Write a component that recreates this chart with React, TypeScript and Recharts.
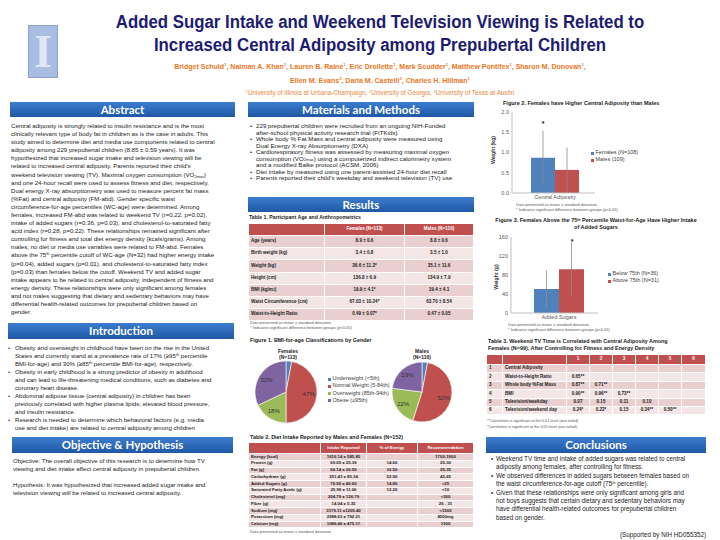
import React from "react";
import { BarChart, Bar, XAxis, YAxis, ErrorBar, PieChart, Pie, Cell } from "recharts";

const SANS = "'Liberation Sans', Arial, sans-serif";
const HEAD = "Lato, 'Open Sans', sans-serif";
const BLUE = "#4f81bd";
const RED = "#c0504d";
const GREEN = "#9bbb59";
const PURPLE = "#8064a2";
const ROW_DARK = "#e9cfcf";
const ROW_LIGHT = "#f4e6e6";

// Figure 2 - central adiposity by gender
const fig2Categories = ["Central Adiposity"];
const fig2Females = [0.87];
const fig2FemalesSd = [0.67];
const fig2Males = [0.57];
const fig2MalesSd = [0.55];
const fig2Ticks = [0, 0.5, 1, 1.5, 2];

// Figure 3 - added sugars above / below 75th percentile
const fig3Categories = ["Added Sugars"];
const fig3Below = [50.5];
const fig3BelowSd = [39];
const fig3Above = [92];
const fig3AboveSd = [57];
const fig3Ticks = [0, 40, 80, 120, 160];

// Figure 1 - BMI-for-age classes (%)
const bmiClasses = ["Underweight (<5th)", "Normal Weight (5-84th)", "Overweight (85th-94th)", "Obese (≥95th)"];
const bmiColors = [BLUE, RED, GREEN, PURPLE];
const bmiFemales = [3, 47, 18, 32];
const bmiMales = [3, 52, 22, 23];

// Table 1
const t1Header = ["", "Females (N=113)", "Males (N=116)"];
const t1Labels = ["Age (years)", "Birth weight (kg)", "Weight (kg)", "Height (cm)", "BMI (kg/m^{2})", "Waist Circumference (cm)", "Waist-to-Height Ratio"];
const t1Females = ["8.9 ± 0.6", "3.4 ± 0.8", "36.6 ± 11.3*", "136.8 ± 6.9", "19.9 ± 4.1*", "67.03 ± 10.24*", "0.49 ± 0.07*"];
const t1Males = ["8.8 ± 0.6", "3.5 ± 1.0", "35.1 ± 11.6", "134.9 ± 7.9", "19.4 ± 4.1", "63.70 ± 8.54", "0.47 ± 0.05"];

// Table 2
const t2Header = ["", "Intake Reported", "% of Energy", "Recommendation"];
const t2Labels = ["Energy (kcal)", "Protein (g)", "Fat (g)", "Carbohydrate (g)", "Added Sugars  (g)", "Saturated Fatty Acids (g)", "Cholesterol (mg)", "Fiber (g)", "Sodium (mg)", "Potassium (mg)", "Calcium (mg)"];
const t2Intake = ["1616.14 ± 585.85", "69.05 ± 25.36", "66.14 ± 26.56", "251.43 ± 85.34", "70.90 ± 40.66", "25.99 ± 11.06", "204.79 ± 126.79", "14.04 ± 5.35", "3179.11 ±1209.40", "2088.63 ± 792.21", "1086.46 ± 475.17"];
const t2Energy = ["", "14.60", "32.50", "52.90", "14.80", "12.20", "", "", "", "", ""];
const t2Rec = ["1700-1900", "20-30", "25-35", "45-65", "<25", "<10", "<300", "26 - 31", "<1500", "4500mg", "1300"];

// Table 3
const t3Header = ["", "", "1", "2", "3", "4", "5", "6"];
const t3Labels = ["Central Adiposity", "Waist-to-Height Ratio", "Whole body %Fat Mass", "BMI", "Television/weekday", "Television/weekend day"];
const t3Values = [
  [],
  ["0.65**"],
  ["0.87**", "0.71**"],
  ["0.90**", "0.96**", "0.73**"],
  ["0.07", "0.15", "0.11", "0.10"],
  ["0.24*", "0.22*", "0.15", "0.34**", "0.50**"],
];

const abstractLines = [
  "Central adiposity is strongly related to insulin resistance and is the most",
  "clinically relevant type of body fat in children as is the case in adults.  This",
  "study aimed to determine diet and media use components related to central",
  "adiposity among 229 prepubertal children (8.85 ± 0.59 years). It was",
  "hypothesized that increased sugar intake and television viewing will be",
  "related to increased central adiposity. Parents reported their child's",
  "weekend television viewing (TV). Maximal oxygen consumption (VO_{2max})",
  "and one 24-hour recall were used to assess fitness and diet, respectively.",
  "Dual energy X-ray absorptiometry was used to measure percent fat mass",
  "(%Fat) and central adiposity (FM-abd). Gender specific waist",
  "circumference-for-age percentiles (WC-age) were determined. Among",
  "females, increased FM-abd was related to weekend TV (r=0.22, p=0.02),",
  "intake of added sugars (r=0.36, p=0.03), and cholesterol-to-saturated fatty",
  "acid index (r=0.28, p=0.22). These relationships remained significant after",
  "controlling for fitness and total diet energy density (kcals/grams). Among",
  "males, no diet or media use variables were related to FM-abd. Females",
  "above the 75^{th} percentile cutoff of WC-age (N=32) had higher energy intake",
  "(p=0.04), added sugars (p=0.01), and cholesterol-to-saturated fatty index",
  "(p=0.03) than females below the cutoff. Weekend TV and added sugar",
  "intake appears to be related to central adiposity, independent of fitness and",
  "energy density. These relationships were only significant among females",
  "and not males suggesting that dietary and sedentary behaviors may have",
  "differential health-related outcomes for prepubertal children based on",
  "gender.",
];

const methodsItems = [
  ["229 prepubertal children were recruited from an ongoing NIH-Funded", "after-school physical activity research trial (FITKids)"],
  ["Whole body % Fat Mass and central adiposity were measured using", "Dual Energy X-ray Absorptiometry (DXA)"],
  ["Cardiorespiratory fitness was assessed by measuring maximal oxygen", "consumption (VO_{2max}) using a computerized indirect calorimetry system", "and a modified Balke protocol (ACSM, 2006)"],
  ["Diet intake by measured using one parent-assisted 24-hour diet recall"],
  ["Parents reported their child's weekday and weekend television (TV) use"],
];

const introItems = [
  ["Obesity and overweight in childhood have been on the rise in the United", "States and currently stand at a prevalence rate of 17% (≥95^{th} percentile", "BMI-for-age) and 30% (≥85^{th} percentile BMI-for-age), respectively."],
  ["Obesity in early childhood is a strong predictor of obesity in adulthood", "and can lead to life-threatening medical conditions, such as diabetes and", "coronary heart disease."],
  ["Abdominal adipose tissue (central adiposity) in children has been", "previously correlated with higher plasma lipids, elevated blood pressure,", "and insulin resistance."],
  ["Research is needed to determine which behavioral factors (e.g. media", "use and diet intake) are related to central adiposity among children"],
];

const conclusionItems = [
  ["Weekend TV time and intake of added sugars was related to central", "adiposity among females, after controlling for fitness."],
  ["We observed differences in added sugars between females based on", "the waist circumference-for-age cutoff (75^{th} percentile)."],
  ["Given that these relationships were only significant among girls and", "not boys suggests that certain dietary and sedentary behaviors may", "have differential health-related outcomes for prepubertal children", "based on gender."],
];

// "^{x}" -> superscript, "_{x}" -> subscript
function fmt(s: string) {
  const parts = s.split(/(\^\{[^}]*\}|_\{[^}]*\})/);
  return parts.map((p, i) => {
    if (p.startsWith("^{")) return <span key={i} style={{ fontSize: "65%", verticalAlign: "0.45em", lineHeight: 0 }}>{p.slice(2, -1)}</span>;
    if (p.startsWith("_{")) return <span key={i} style={{ fontSize: "65%", verticalAlign: "-0.15em", lineHeight: 0 }}>{p.slice(2, -1)}</span>;
    return p;
  });
}

function T({ x, y, size, children, bold = false, color = "#222", center = false, right = false, family = SANS }: any) {
  const tx = center ? "-50%" : right ? "-100%" : "0";
  return (
    <div
      style={{
        position: "absolute",
        left: x,
        top: y,
        transform: `translate(${tx}, -50%)`,
        fontSize: size,
        fontWeight: bold ? "bold" : "normal",
        color,
        fontFamily: family,
        lineHeight: 1,
        whiteSpace: "nowrap",
      }}
    >
      {children}
    </div>
  );
}

function Banner({ x, y, w, h, label }: any) {
  return (
    <div
      style={{
        position: "absolute",
        left: x,
        top: y,
        width: w,
        height: h,
        background: "linear-gradient(#3c7dd0, #1f58a5)",
        color: "#fff",
        fontFamily: HEAD,
        fontWeight: "bold",
        fontSize: 11.5,
        lineHeight: `${h}px`,
        textAlign: "center",
      }}
    >
      {label}
    </div>
  );
}

function Bullets({ x, tx, y, lh, size, items }: any) {
  const out: any[] = [];
  let i = 0;
  items.forEach((lines: string[], k: number) => {
    lines.forEach((ln, j) => {
      const yy = y + i * lh;
      if (j === 0) out.push(<T key={`b${k}`} x={x} y={yy} size={size} color="#333">•</T>);
      out.push(<T key={`l${k}-${j}`} x={tx} y={yy} size={size}>{fmt(ln)}</T>);
      i++;
    });
  });
  return <>{out}</>;
}

// table drawn as a grid of cells separated by 1px white gaps
function Grid({ x, y, cols, headH, rowH, header, rows, fs, labelCols = 1 }: any) {
  const lefts: number[] = [];
  let acc = x;
  cols.forEach((w: number) => {
    lefts.push(acc);
    acc += w;
  });
  const cell = (key: string, left: number, top: number, w: number, h: number, bg: string, color: string, align: string, txt: string) => (
    <div
      key={key}
      style={{
        position: "absolute",
        left,
        top,
        width: w - 1,
        height: h - 1,
        background: bg,
        color,
        display: "flex",
        alignItems: "center",
        justifyContent: align,
        paddingLeft: align === "flex-start" ? 2 : 0,
        boxSizing: "border-box",
        fontFamily: SANS,
        fontSize: fs,
        fontWeight: "bold",
        lineHeight: 1,
        whiteSpace: "nowrap",
        overflow: "hidden",
      }}
    >
      {fmt(txt)}
    </div>
  );
  const out: any[] = [];
  header.forEach((h: string, c: number) => out.push(cell(`h${c}`, lefts[c], y, cols[c], headH, RED, "#fff", "center", h)));
  rows.forEach((r: string[], ri: number) =>
    r.forEach((v, c) =>
      out.push(
        cell(`r${ri}-${c}`, lefts[c], y + headH + ri * rowH, cols[c], rowH, ri % 2 === 0 ? ROW_DARK : ROW_LIGHT, "#222", c < labelCols ? "flex-start" : "center", v)
      )
    )
  );
  return <>{out}</>;
}

const RAD = Math.PI / 180;
const pieLabel = (p: any) => {
  if (p.value < 5) return null;
  const r = p.outerRadius * 0.74;
  const x = p.cx + r * Math.cos(-p.midAngle * RAD);
  const y = p.cy + r * Math.sin(-p.midAngle * RAD);
  return (
    <text x={x} y={y} textAnchor="middle" dominantBaseline="central" fontSize={6} fill="#333" fontFamily={SANS}>
      {p.value}%
    </text>
  );
};

const axisTick = { fontSize: 5.5, fill: "#595959", fontFamily: SANS };

const CatTick = (p: any) => (
  <text x={p.x} y={p.y} dy="0.71em" textAnchor="middle" fontSize={5.5} fill="#595959" fontFamily={SANS}>
    {p.payload.value}
  </text>
);

function Legend({ x, y, lh, items, colors }: any) {
  return (
    <>
      {items.map((s: string, i: number) => (
        <React.Fragment key={i}>
          <div style={{ position: "absolute", left: x, top: y + i * lh - 1.5, width: 3, height: 3, background: colors[i] }} />
          <T x={x + 4.5} y={y + i * lh} size={5.5} color="#404040">{s}</T>
        </React.Fragment>
      ))}
    </>
  );
}

const supS = { fontSize: "60%", verticalAlign: "0.5em", lineHeight: 0 };

export default function App() {
  const fig2Data = fig2Categories.map((c, i) => ({
    cat: c,
    females: fig2Females[i],
    femalesSd: fig2FemalesSd[i],
    males: fig2Males[i],
    malesSd: fig2MalesSd[i],
  }));
  const fig3Data = fig3Categories.map((c, i) => ({
    cat: c,
    below: fig3Below[i],
    belowSd: fig3BelowSd[i],
    above: fig3Above[i],
    aboveSd: fig3AboveSd[i],
  }));
  const femalePie = bmiClasses.map((n, i) => ({ name: n, value: bmiFemales[i] }));
  const malePie = bmiClasses.map((n, i) => ({ name: n, value: bmiMales[i] }));

  const t1Rows = t1Labels.map((l, i) => [l, t1Females[i], t1Males[i]]);
  const t2Rows = t2Labels.map((l, i) => [l, t2Intake[i], t2Energy[i], t2Rec[i]]);
  const t3Rows = t3Labels.map((l, i) => {
    const vals = [...t3Values[i]];
    while (vals.length < 6) vals.push("");
    return [String(i + 1), l, ...vals];
  });

  return (
    <div style={{ position: "absolute", left: 0, top: 0, width: 720, height: 540, background: "#fff", overflow: "hidden", fontFamily: SANS }}>
      {/* header */}
      <div style={{ position: "absolute", left: 28, top: 25, width: 30, height: 53, background: "#a9bde3", border: "1px solid #8aa3d2", boxSizing: "border-box" }}>
        <div style={{ position: "absolute", left: 0, top: 2, width: "100%", textAlign: "center", fontFamily: "'Liberation Serif', serif", fontWeight: "bold", fontSize: 46, lineHeight: "48px", color: "#dfe7f5" }}>I</div>
      </div>
      <div style={{ position: "absolute", left: 80, top: 11, width: 600, textAlign: "center", color: "#1c1c72", fontWeight: "bold", fontSize: 17.5, lineHeight: "23px", transform: "scaleX(0.96)" }}>
        Added Sugar Intake and Weekend Television Viewing is Related to
        <br />
        Increased Central Adiposity among Prepubertal Children
      </div>
      <T x={380} y={66} size={7} bold color="#e8771f" center>
        Bridget Schuld<span style={supS}>1</span>, Naiman A. Khan<span style={supS}>1</span>, Lauren B. Raine<span style={supS}>1</span>, Eric Drollette<span style={supS}>1</span>, Mark Scudder<span style={supS}>1</span>, Matthew Pontifex<span style={supS}>1</span>, Sharon M. Donovan<span style={supS}>1</span>,
      </T>
      <T x={380} y={80} size={7} bold color="#e8771f" center>
        Ellen M. Evans<span style={supS}>2</span>, Darla M. Castelli<span style={supS}>3</span>, Charles H. Hillman<span style={supS}>1</span>
      </T>
      <T x={380} y={93} size={6.3} color="#e8873a" center>
        <span style={supS}>1</span>University of Illinois at Urbana-Champaign, <span style={supS}>2</span>University of Georgia, <span style={supS}>3</span>University of Texas at Austin
      </T>

      {/* left column */}
      <Banner x={10} y={102} w={225} h={15} label="Abstract" />
      {abstractLines.map((l, i) => (
        <T key={i} x={11} y={126 + i * 8.09} size={6.1}>{fmt(l)}</T>
      ))}
      <Banner x={8} y={323} w={226} h={16} label="Introduction" />
      <Bullets x={8} tx={15} y={348} lh={8} size={6.1} items={introItems} />
      <Banner x={12} y={437} w={221} h={16} label="Objective & Hypothesis" />
      <T x={13} y={461} size={6.1}>Objective: The overall objective of this research is to determine how TV</T>
      <T x={13} y={469} size={6.1}>viewing and diet intake affect central adiposity in prepubertal children.</T>
      <T x={13} y={485} size={6.1}>Hypothesis: It was hypothesized that increased added sugar intake and</T>
      <T x={13} y={493} size={6.1}>television viewing will be related to increased central adiposity.</T>

      {/* middle column */}
      <Banner x={248} y={102} w={226} h={15} label="Materials and Methods" />
      <Bullets x={250} tx={256} y={126} lh={6.5} size={6.2} items={methodsItems} />
      <Banner x={248} y={197} w={226} h={15} label="Results" />
      <T x={249} y={218} size={5.2} bold>Table 1. Participant Age and Anthropometrics</T>
      <Grid x={249} y={224} cols={[76, 80, 69]} headH={12} rowH={12.2} header={t1Header} rows={t1Rows} fs={4.6} />
      <T x={250} y={323} size={4} color="#555">Data presented as mean ± standard deviation</T>
      <T x={250} y={328} size={4} color="#555">* Indicates significant difference between groups (p&lt;0.05)</T>

      <T x={250} y={341} size={5.4} bold>Figure 1. BMI-for-age Classifications by Gender</T>
      <T x={288} y={351} size={5} bold center>Females</T>
      <T x={288} y={357} size={5} bold center>(N=113)</T>
      <T x={422} y={351} size={5} bold center>Males</T>
      <T x={422} y={357} size={5} bold center>(N=116)</T>
      <div style={{ position: "absolute", left: 245, top: 352, width: 250, height: 80 }}>
        <PieChart width={250} height={80} margin={{ top: 0, right: 0, bottom: 0, left: 0 }}>
          <Pie data={femalePie} dataKey="value" cx={41} cy={40} outerRadius={31} startAngle={90} endAngle={-270} stroke="#fff" strokeWidth={0.6} label={pieLabel} labelLine={false} isAnimationActive={false}>
            {femalePie.map((d, i) => (
              <Cell key={i} fill={bmiColors[i]} />
            ))}
          </Pie>
          <Pie data={malePie} dataKey="value" cx={177} cy={40} outerRadius={30} startAngle={90} endAngle={-270} stroke="#fff" strokeWidth={0.6} label={pieLabel} labelLine={false} isAnimationActive={false}>
            {malePie.map((d, i) => (
              <Cell key={i} fill={bmiColors[i]} />
            ))}
          </Pie>
        </PieChart>
      </div>
      <Legend x={328} y={379} lh={7.3} items={bmiClasses} colors={bmiColors} />

      <T x={250} y={438} size={5.4} bold>Table 2. Diet Intake Reported by Males and Females (N=152)</T>
      <Grid x={249} y={443} cols={[72, 46, 51, 56]} headH={11} rowH={6.75} header={t2Header} rows={t2Rows} fs={4.3} />
      <T x={250} y={532} size={4} color="#555">Data presented as mean ± standard deviation</T>

      {/* right column */}
      <T x={503} y={104} size={5.5} bold>Figure 2. Females have Higher Central Adiposity than Males</T>
      <div style={{ position: "absolute", left: 490, top: 105, width: 225, height: 98 }}>
        <BarChart width={225} height={98} data={fig2Data} margin={{ top: 7, right: 120, left: 0, bottom: 0 }} barGap={0}>
          <XAxis dataKey="cat" axisLine={{ stroke: "#bfbfbf" }} tickLine={false} tickSize={0} tickMargin={2} height={10} tick={CatTick} padding={{ left: 3, right: 0 }} />
          <YAxis domain={[0, 2]} ticks={fig2Ticks} tickFormatter={(v: number) => v.toFixed(1)} axisLine={{ stroke: "#bfbfbf" }} tickLine={false} tickSize={0} tickMargin={3} width={22} tick={axisTick} />
          <Bar dataKey="females" fill={BLUE} barSize={24} isAnimationActive={false}>
            <ErrorBar dataKey="femalesSd" width={0} stroke="#8c8c8c" strokeWidth={0.8} direction="y" />
          </Bar>
          <Bar dataKey="males" fill={RED} barSize={24} isAnimationActive={false}>
            <ErrorBar dataKey="malesSd" width={0} stroke="#8c8c8c" strokeWidth={0.8} direction="y" />
          </Bar>
        </BarChart>
      </div>
      <T x={543} y={123} size={7} bold center>*</T>
      <div style={{ position: "absolute", left: 493, top: 150, transform: "translate(-50%,-50%) rotate(-90deg)", fontSize: 5.2, fontWeight: "bold", whiteSpace: "nowrap", color: "#333" }}>Weight (kg)</div>
      <Legend x={591} y={153} lh={7} items={["Females (N=108)", "Males (109)"]} colors={[BLUE, RED]} />
      <T x={516} y={205} size={4} color="#555">Data presented as mean ± standard deviation</T>
      <T x={516} y={210} size={4} color="#555">* Indicates significant difference between groups (p&lt;0.05)</T>

      <T x={596} y={221} size={5.5} bold center>Figure 3. Females Above the 75<span style={supS}>th</span> Percentile Waist-for-Age Have Higher Intake</T>
      <T x={596} y={228} size={5.5} bold center>of Added Sugars</T>
      <div style={{ position: "absolute", left: 490, top: 230, width: 225, height: 93 }}>
        <BarChart width={225} height={93} data={fig3Data} margin={{ top: 7, right: 117, left: 0, bottom: 0 }} barGap={0}>
          <XAxis dataKey="cat" axisLine={{ stroke: "#bfbfbf" }} tickLine={false} tickSize={0} tickMargin={2} height={10} tick={CatTick} padding={{ left: 9, right: 0 }} />
          <YAxis domain={[0, 160]} ticks={fig3Ticks} axisLine={{ stroke: "#bfbfbf" }} tickLine={false} tickSize={0} tickMargin={3} width={21} tick={axisTick} />
          <Bar dataKey="below" fill={BLUE} barSize={25} isAnimationActive={false}>
            <ErrorBar dataKey="belowSd" width={0} stroke="#8c8c8c" strokeWidth={0.8} direction="y" />
          </Bar>
          <Bar dataKey="above" fill={RED} barSize={25} isAnimationActive={false}>
            <ErrorBar dataKey="aboveSd" width={0} stroke="#8c8c8c" strokeWidth={0.8} direction="y" />
          </Bar>
        </BarChart>
      </div>
      <T x={572} y={241} size={7} bold center>*</T>
      <div style={{ position: "absolute", left: 496, top: 277, transform: "translate(-50%,-50%) rotate(-90deg)", fontSize: 5.2, fontWeight: "bold", whiteSpace: "nowrap", color: "#333" }}>Weight (g)</div>
      <Legend x={608} y={274} lh={7} items={["Below 75th (N=36)", "Above 75th (N=31)"]} colors={[BLUE, RED]} />
      <T x={508} y={325} size={4} color="#555">Data presented as mean ± standard deviation</T>
      <T x={508} y={330} size={4} color="#555">* Indicates significant difference between groups (p&lt;0.05)</T>

      <T x={488} y={342} size={5.4} bold>Table 3. Weekend TV Time is Correlated with Central Adiposity Among</T>
      <T x={488} y={349} size={5.4} bold>Females (N=99), After Controlling for Fitness and Energy Density</T>
      <Grid x={487} y={355} cols={[16, 64, 23, 23, 23, 23, 23, 24]} headH={10} rowH={8.4} header={t3Header} rows={t3Rows} fs={4.6} labelCols={2} />
      <T x={487} y={422} size={3.8} color="#555">**Correlation is significant at the 0.01 level (one-tailed)</T>
      <T x={487} y={428} size={3.8} color="#555">*Correlation is significant at the 0.05 level (one-tailed)</T>

      <Banner x={486} y={437} w={220} h={16} label="Conclusions" />
      <Bullets x={491} tx={496} y={459} lh={8.4} size={6.3} items={conclusionItems} />
      <T x={706} y={535} size={6.3} right>(Supported by NIH HD055352)</T>
    </div>
  );
}
